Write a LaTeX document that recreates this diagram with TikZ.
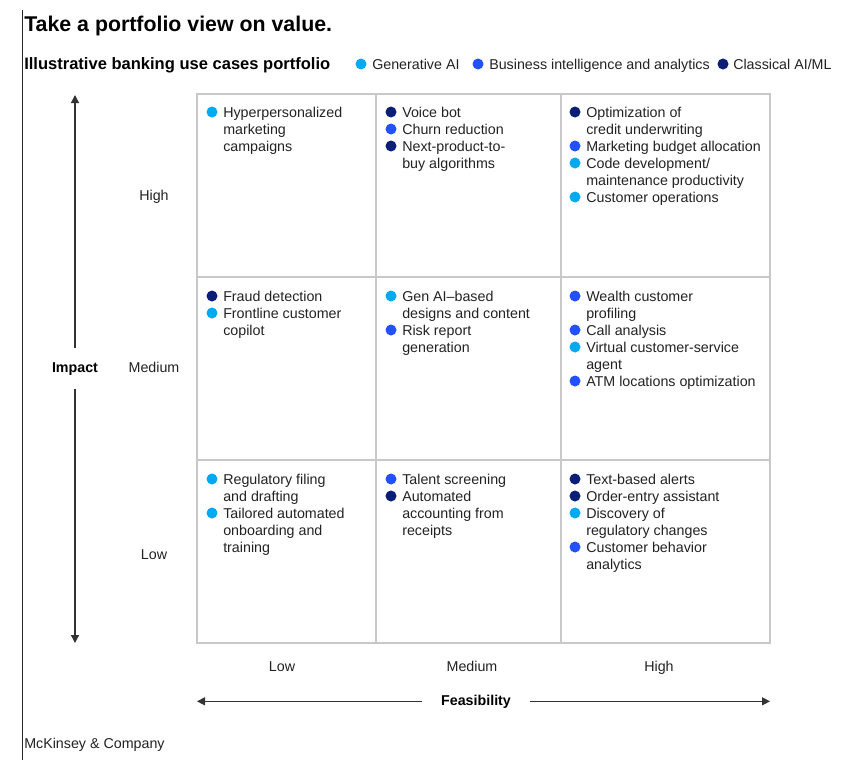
\documentclass[tikz,border=0pt]{standalone}
\usepackage{fontspec}
\setmainfont{Liberation Sans}
\usetikzlibrary{arrows.meta, positioning}

\definecolor{genai}{HTML}{00A9F4}
\definecolor{bianalytics}{HTML}{2251FF}
\definecolor{classic}{HTML}{0B1F78}
\definecolor{gridgray}{HTML}{C8C8C8}
\definecolor{axisgray}{HTML}{333333}
\definecolor{inkgray}{HTML}{222222}

\tikzset{
  uctext/.style={anchor=north west, inner sep=0pt, align=left, text=inkgray,
    font=\fontsize{10.7}{12.75}\selectfont},
  lbl/.style={inner sep=0pt, text=inkgray, font=\fontsize{10.7}{12.75}\selectfont},
  axislbl/.style={inner sep=0pt, text=black, font=\fontsize{10.7}{12.75}\selectfont\bfseries},
  axisarrow/.style={draw=axisgray, line width=0.9pt, -{Triangle[length=6pt, width=6pt]}},
  cell/.style={draw=gridgray, line width=1pt},
}

% bullet and text of one use case: name, x, y of first line, colour, text
\newcommand{\usecase}[5]{%
  \fill[#4] (#2-11,#3) circle[radius=5.5];
  \node[uctext] (#1) at (#2,#3-5.3) {#5};
}

\begin{document}
\begin{tikzpicture}[x=0.75pt, y=-0.75pt]
\useasboundingbox (0,0) rectangle (855,760);
\draw[line width=0.75pt, black!85] (22,10) -- (22,760);
%
\node[anchor=base west, inner sep=0pt, font=\fontsize{16}{19}\selectfont\bfseries] (title) at (24,31) {Take a portfolio view on value.};
\node[anchor=base west, inner sep=0pt, font=\fontsize{12.4}{15}\selectfont\bfseries] (subtitle) at (24,69) {Illustrative banking use cases portfolio};
\fill[genai] (361,64) circle[radius=5.5];
\node[lbl, anchor=base west] (leggen) at (372,69) {Generative AI};
\fill[bianalytics] (478,64) circle[radius=5.5];
\node[lbl, anchor=base west] (legbi) at (489,69) {Business intelligence and analytics};
\fill[classic] (723,64) circle[radius=5.5];
\node[lbl, anchor=base west] (legclassic) at (733,69) {Classical AI/ML};
%
\draw[cell] (197,94) rectangle (770,643);
\draw[cell] (376,94) -- (376,643) (561,94) -- (561,643);
\draw[cell] (197,277) -- (770,277) (197,460) -- (770,460);
% cells listed left to right, top to bottom
\usecase{hpers}{223}{112}{genai}{Hyperpersonalized\\marketing\\campaigns}
\usecase{voice}{402}{112}{classic}{Voice bot}
\usecase{churn}{402}{129}{bianalytics}{Churn reduction}
\usecase{nextprod}{402}{146}{classic}{Next-product-to-\\buy algorithms}
\usecase{credit}{586}{112}{classic}{Optimization of\\credit underwriting}
\usecase{mktbudget}{586}{146}{bianalytics}{Marketing budget allocation}
\usecase{codedev}{586}{163}{genai}{Code development/\\maintenance productivity}
\usecase{custops}{586}{197}{genai}{Customer operations}
\usecase{fraud}{223}{296}{classic}{Fraud detection}
\usecase{copilot}{223}{313}{genai}{Frontline customer\\copilot}
\usecase{gendesign}{402}{296}{genai}{Gen AI--based\\designs and content}
\usecase{riskrep}{402}{330}{bianalytics}{Risk report\\generation}
\usecase{wealth}{586}{296}{bianalytics}{Wealth customer\\profiling}
\usecase{callan}{586}{330}{bianalytics}{Call analysis}
\usecase{virtagent}{586}{347}{genai}{Virtual customer-service\\agent}
\usecase{atm}{586}{381}{bianalytics}{ATM locations optimization}
\usecase{regfiling}{223}{479}{genai}{Regulatory filing\\and drafting}
\usecase{onboard}{223}{513}{genai}{Tailored automated\\onboarding and\\training}
\usecase{talent}{402}{479}{bianalytics}{Talent screening}
\usecase{accounting}{402}{496}{classic}{Automated\\accounting from\\receipts}
\usecase{alerts}{586}{479}{classic}{Text-based alerts}
\usecase{orderentry}{586}{496}{classic}{Order-entry assistant}
\usecase{regchange}{586}{513}{genai}{Discovery of\\regulatory changes}
\usecase{custbehav}{586}{547}{bianalytics}{Customer behavior\\analytics}
%
\node[lbl, anchor=base] (rowhigh) at (154,200) {High};
\node[lbl, anchor=base] (rowmed) at (154,372) {Medium};
\node[lbl, anchor=base] (rowlow) at (154,559) {Low};
\node[lbl, anchor=base] (collow) at (282,671) {Low};
\node[lbl, anchor=base] (colmed) at (472,671) {Medium};
\node[lbl, anchor=base] (colhigh) at (659,671) {High};
%
\node[axislbl, anchor=base, inner ysep=10.5pt] (impact) at (75,372) {Impact};
\coordinate (imptop) at (75,95);
\coordinate (impbot) at (75,643);
\draw[axisarrow] (impact) -- (imptop);
\draw[axisarrow] (impact) -- (impbot);
\node[axislbl, anchor=base, inner xsep=14pt] (feas) at (476,705) {Feasibility};
\coordinate (feasleft) at (197,700);
\coordinate (feasright) at (770,700);
\draw[axisarrow] (feas) -- (feas -| feasleft);
\draw[axisarrow] (feas) -- (feas -| feasright);
%
\node[lbl, anchor=base west] (brand) at (24,748) {McKinsey \& Company};
\end{tikzpicture}
\end{document}
